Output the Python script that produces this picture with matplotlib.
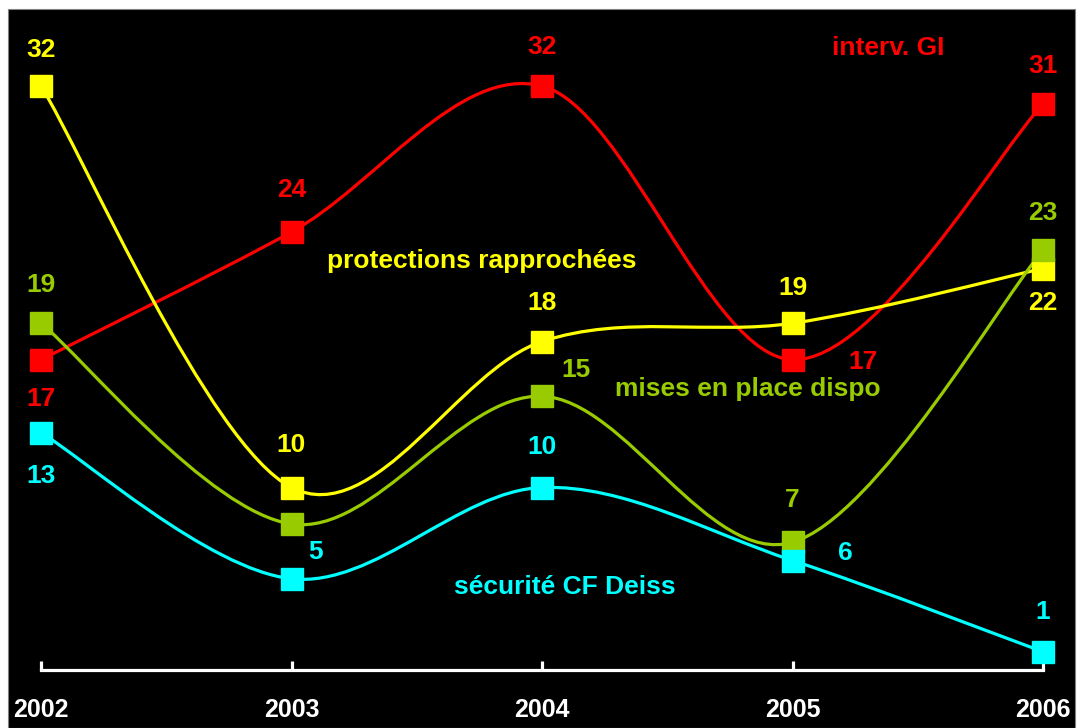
import numpy as np
import matplotlib
matplotlib.use("Agg")
import matplotlib.pyplot as plt
from matplotlib.path import Path
from matplotlib.patches import PathPatch, Rectangle

plt.rcParams['font.family'] = ['Liberation Sans', 'DejaVu Sans']
plt.rcParams['font.weight'] = 'bold'

# Data
years = [2002, 2003, 2004, 2005, 2006]
interv_gi = [17, 24, 32, 17, 31]
protections = [32, 10, 18, 19, 22]
mises_en_place = [19, 8, 15, 7, 23]
securite = [13, 5, 10, 6, 1]

series_names = ["interv. GI", "protections rapprochées", "mises en place dispo", "sécurité CF Deiss"]
series_values = [interv_gi, protections, mises_en_place, securite]
colors = ["#ff0000", "#ffff00", "#99cc00", "#00ffff"]

# which points get a value label (the 2003 green point has none)
show_label = [
    [1, 1, 1, 1, 1],
    [1, 1, 1, 1, 1],
    [1, 0, 1, 1, 1],
    [1, 1, 1, 1, 1],
]
# label offsets in pixels (dx, dy up)
label_offsets = [
    [(0, -39), (0, 42), (0, 39), (70, -2), (0, 38)],
    [(0, 36), (0, 42), (0, 39), (0, 35), (0, -35)],
    [(0, 38), (0, 0), (34, 26), (0, 42), (0, 37)],
    [(0, -43), (24, 27), (0, 40), (53, 8), (0, 40)],
]
# series name positions (data coords)
name_pos = [(2005.38, 34.1), (2003.76, 22.4), (2004.82, 15.4), (2004.09, 4.55)]


def smooth_path(x, y):
    # Excel-like smoothed line: cubic bezier through the points
    pts = np.column_stack([x, y]).astype(float)
    n = len(pts)
    verts = [pts[0]]
    codes = [Path.MOVETO]
    for i in range(n - 1):
        p0 = pts[i - 1] if i > 0 else pts[i]
        p1 = pts[i]
        p2 = pts[i + 1]
        p3 = pts[i + 2] if i + 2 < n else pts[i + 1]
        c1 = p1 + (p2 - p0) / 6.0
        c2 = p2 - (p3 - p1) / 6.0
        verts += [c1, c2, p2]
        codes += [Path.CURVE4] * 3
    return Path(verts, codes)


fig = plt.figure(figsize=(10.81, 7.28), dpi=100)
fig.patch.set_facecolor("white")
fig.patches.append(Rectangle((8 / 1081, 0), (1075 - 8) / 1081, (728 - 9) / 728,
                             transform=fig.transFigure, facecolor="black",
                             edgecolor="#808080", linewidth=0.8, zorder=-10))

ax = fig.add_axes([41 / 1081, 58 / 728, 1002 / 1081, 620.5 / 728])
ax.set_facecolor("none")
ax.set_xlim(2002, 2006)
ax.set_ylim(0, 34)

for k in range(len(series_values)):
    vals = series_values[k]
    c = colors[k]
    patch = PathPatch(smooth_path(years, vals), facecolor="none", edgecolor=c,
                      linewidth=2.3, zorder=2, clip_on=False)
    ax.add_patch(patch)
    ax.plot(years, vals, linestyle="none", marker="s", markersize=15.5,
            color=c, zorder=3, clip_on=False)
    for i in range(len(years)):
        if not show_label[k][i]:
            continue
        dx, dy = label_offsets[k][i]
        ax.annotate(str(vals[i]), (years[i], vals[i]), xytext=(dx, dy),
                    textcoords="offset pixels", ha="center", va="center",
                    color=c, fontsize=19, fontweight="bold")
    ax.text(name_pos[k][0], name_pos[k][1], series_names[k], color=c,
            fontsize=19, fontweight="bold", ha="center", va="center")

for s in ["left", "right", "top"]:
    ax.spines[s].set_visible(False)
ax.spines["bottom"].set_color("white")
ax.spines["bottom"].set_linewidth(2.3)
ax.set_yticks([])
ax.set_xticks(years)
ax.set_xticklabels([str(y) for y in years])
ax.tick_params(axis="x", direction="in", length=6.5, width=2.3, color="white",
               labelcolor="white", labelsize=18, pad=20)
for t in ax.get_xticklabels():
    t.set_fontweight("bold")

fig.savefig("out.png", dpi=100, facecolor=fig.get_facecolor())
